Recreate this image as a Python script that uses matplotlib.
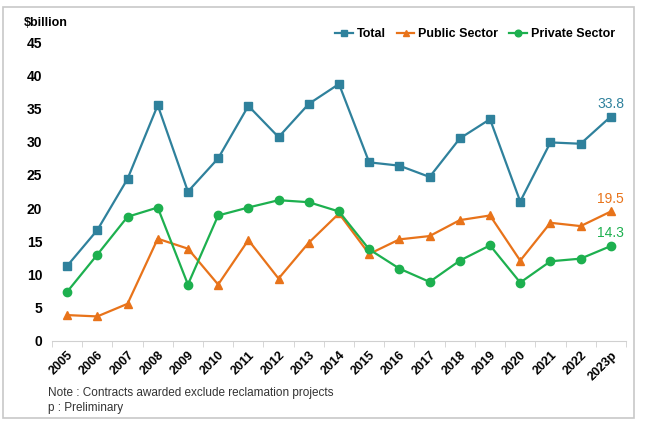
import matplotlib.pyplot as plt
from matplotlib.patches import Rectangle

plt.rcParams['font.family'] = ['Liberation Sans', 'DejaVu Sans']

years = ['2005', '2006', '2007', '2008', '2009', '2010', '2011', '2012', '2013', '2014',
         '2015', '2016', '2017', '2018', '2019', '2020', '2021', '2022', '2023p']
total = [11.3, 16.7, 24.4, 35.5, 22.5, 27.5, 35.4, 30.7, 35.7, 38.7,
         26.9, 26.4, 24.7, 30.5, 33.4, 21.0, 29.9, 29.7, 33.8]
public = [3.9, 3.7, 5.6, 15.4, 13.9, 8.5, 15.2, 9.4, 14.8, 19.2,
          13.1, 15.3, 15.8, 18.2, 18.9, 12.1, 17.8, 17.3, 19.5]
private = [7.4, 13.0, 18.7, 20.1, 8.5, 18.9, 20.1, 21.2, 20.9, 19.5,
           13.8, 10.9, 8.9, 12.1, 14.4, 8.8, 12.0, 12.4, 14.3]

c_total = '#2F819C'
c_public = '#E8731A'
c_private = '#1DB04F'

fig = plt.figure(figsize=(6.5, 4.3), dpi=100)
ax = fig.add_axes([0.08, 0.207, 0.883, 0.695])

x = range(len(years))
ax.plot(x, total, color=c_total, marker='s', markersize=6, lw=1.6, label='Total')
ax.plot(x, public, color=c_public, marker='^', markersize=6, lw=1.6, label='Public Sector')
ax.plot(x, private, color=c_private, marker='o', markersize=6, lw=1.6, label='Private Sector')

# end labels
last = len(years) - 1
for vals, col in [(total, c_total), (public, c_public), (private, c_private)]:
    ax.annotate(f'{vals[-1]:.1f}', (last, vals[-1]), xytext=(0, 4), textcoords='offset points',
                ha='center', va='bottom', color=col, fontsize=10)

ax.set_xlim(-0.5, len(years) - 0.5)
ax.set_ylim(0, 45)
ax.set_yticks(range(0, 46, 5))
ax.set_xticks(x)
ax.set_xticklabels(years, rotation=45, ha='right', rotation_mode='anchor',
                   fontsize=9, fontweight='bold')
ax.set_xticks([i - 0.5 for i in range(len(years) + 1)], minor=True)
ax.tick_params(axis='x', which='major', length=0, pad=6)
ax.tick_params(axis='x', which='minor', length=4, color='#D0D0D0')
ax.tick_params(axis='y', length=0, labelsize=10, pad=7)
for t in ax.get_yticklabels():
    t.set_fontweight('bold')

for s in ['top', 'right', 'left']:
    ax.spines[s].set_visible(False)
ax.spines['bottom'].set_color('#D0D0D0')

ax.legend(loc='upper right', bbox_to_anchor=(1.0, 1.085), ncol=3, frameon=False,
          prop={'weight': 'bold', 'size': 9}, handlelength=1.4, handletextpad=0.3,
          columnspacing=0.9, markerscale=0.8)

fig.text(0.036, 0.947, '$billion', fontsize=9, fontweight='bold', va='center')
fig.text(0.074, 0.086, 'Note : Contracts awarded exclude reclamation projects',
         fontsize=8.5, color='#333333', va='center')
fig.text(0.074, 0.050, 'p : Preliminary', fontsize=8.5, color='#333333', va='center')

fig.patches.append(Rectangle((0.004, 0.028), 0.972, 0.955, transform=fig.transFigure,
                             fill=False, edgecolor='#C8C8C8', lw=1.2))

fig.savefig('out.png', dpi=100)
